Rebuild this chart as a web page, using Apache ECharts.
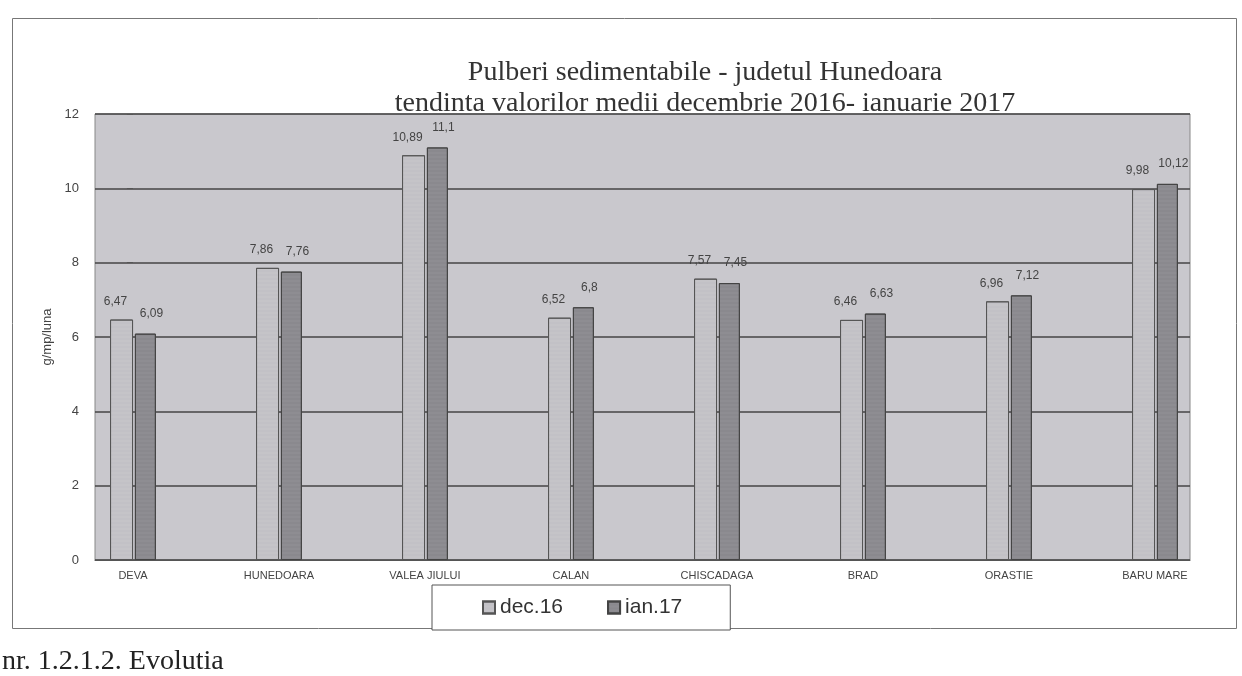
<!DOCTYPE html>
<html>
<head>
<meta charset="utf-8">
<script src="https://cdn.jsdelivr.net/npm/echarts@6/dist/echarts.min.js"></script>
<style>html,body{margin:0;padding:0;background:#fff;}#c{width:1242px;height:676px;}</style>
</head>
<body>
<div id="c"></div>
<script>
const categories = ['DEVA','HUNEDOARA','VALEA JIULUI','CALAN','CHISCADAGA','BRAD','ORASTIE','BARU MARE'];
const dec16 = [6.47, 7.86, 10.89, 6.52, 7.57, 6.46, 6.96, 9.98];
const ian17 = [6.09, 7.76, 11.1, 6.8, 7.45, 6.63, 7.12, 10.12];
const yTicks = [0, 2, 4, 6, 8, 10, 12];
const seriesNames = ['dec.16', 'ian.17'];

const chart = echarts.init(document.getElementById('c'), null, {renderer: 'canvas'});
const fmt = p => String(p.value[1]).replace('.', ',');
const toPairs = arr => arr.map((v, i) => [i, v]);

chart.setOption({
  backgroundColor: '#ffffff',
  animation: false,
  title: {
    text: 'Pulberi sedimentabile - judetul Hunedoara\ntendinta valorilor medii decembrie 2016- ianuarie 2017',
    left: 700, top: 52, textAlign: 'center',
    textStyle: {fontFamily: 'Liberation Serif', fontSize: 28, fontWeight: 'normal', color: '#333', lineHeight: 31}
  },
  legend: {
    bottom: 46, left: 432, itemWidth: 12, itemHeight: 12, itemGap: 44,
    padding: [12, 48, 12, 50],
    borderColor: '#555', borderWidth: 1, backgroundColor: '#fff',
    textStyle: {fontFamily: 'Liberation Sans', fontSize: 21, color: '#333'},
    icon: 'rect',
    data: seriesNames
  },
  grid: {left: 95, right: 52, top: 114, bottom: 116, show: true, backgroundColor: '#c9c8cd', borderColor: '#888', borderWidth: 1},
  xAxis: {
    type: 'value', min: -0.26, max: 7.24,
    splitLine: {show: false},
    axisLine: {show: true, lineStyle: {color: '#555'}},
    axisTick: {show: false},
    axisLabel: {
      customValues: categories.map((c, i) => i),
      formatter: v => categories[Math.round(v)] || '',
      fontFamily: 'Liberation Sans', fontSize: 11, color: '#444', margin: 10
    }
  },
  yAxis: {
    type: 'value', min: 0, max: 12, interval: 2,
    name: 'g/mp/luna', nameLocation: 'middle', nameGap: 24, nameRotate: 90,
    nameTextStyle: {fontFamily: 'Liberation Sans', fontSize: 13, color: '#444'},
    axisLine: {show: false},
    axisTick: {show: true, length: 6, lineStyle: {color: '#555'}},
    axisLabel: {fontFamily: 'Liberation Sans', fontSize: 13, color: '#444', margin: 16,
      formatter: v => yTicks.includes(v) ? String(v) : ''},
    splitLine: {show: true, lineStyle: {color: '#444', width: 1.5}}
  },
  series: [
    {
      name: seriesNames[0], type: 'bar', data: toPairs(dec16), barWidth: 23, barGap: '8%',
      itemStyle: {color: '#c2c1c6', borderColor: '#555', borderWidth: 1,
        decal: {symbol: 'rect', symbolSize: 0.6, dashArrayX: [1, 0], dashArrayY: [2, 2], color: 'rgba(255,255,255,0.15)'}},
      label: {show: true, position: 'top', distance: 12, offset: [-6, 0], formatter: fmt,
        fontFamily: 'Liberation Sans', fontSize: 12, color: '#444'}
    },
    {
      name: seriesNames[1], type: 'bar', data: toPairs(ian17), barWidth: 21, barGap: '8%',
      itemStyle: {color: '#8a898e', borderColor: '#444', borderWidth: 1,
        decal: {symbol: 'rect', symbolSize: 0.6, dashArrayX: [1, 0], dashArrayY: [2, 2], color: 'rgba(255,255,255,0.12)'}},
      label: {show: true, position: 'top', distance: 14, offset: [6, 0], formatter: fmt,
        fontFamily: 'Liberation Sans', fontSize: 12, color: '#444'}
    }
  ],
  graphic: [
    {type: 'rect', left: 10, top: 16, shape: {width: 1224, height: 610}, style: {fill: 'none', stroke: '#777', lineWidth: 1}, z: -1},
    {type: 'text', left: 2, top: 648, style: {text: 'nr. 1.2.1.2. Evolutia', font: '28px "Liberation Serif"', fill: '#222'}}
  ]
});
</script>
</body>
</html>
